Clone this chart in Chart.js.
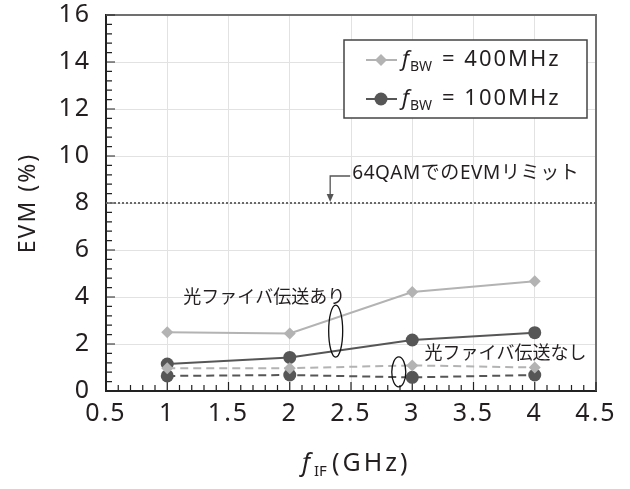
<!DOCTYPE html>
<html>
<head>
<meta charset="utf-8">
<script src="https://cdn.jsdelivr.net/npm/chart.js@4.4.0/dist/chart.umd.min.js"></script>
<style>
  body { margin: 0; background: #fff; }
  #wrap { width: 630px; height: 489px; }
</style>
</head>
<body>
<div id="wrap"><canvas id="evmChart" width="630" height="489"></canvas></div>
<script>
// data
const ifFreq = [1, 2, 3, 4];
const evm400Fiber = [2.50, 2.45, 4.21, 4.67];
const evm100Fiber = [1.15, 1.43, 2.17, 2.48];
const evm400NoFiber = [0.97, 0.97, 1.09, 1.00];
const evm100NoFiber = [0.64, 0.68, 0.58, 0.68];
const limitX = [0.5, 4.5];
const limitY = [8, 8];

const FONT = '"Noto Sans", "Noto Sans CJK JP", sans-serif';
const JFONT = '"Noto Sans CJK JP", sans-serif';
const light = '#b3b3b3';
const dark = '#565656';
const ink = '#231f20';

function pts(ys) {
  return ys.map((y, i) => ({ x: ifFreq[i], y: y }));
}

// wide tracking like the original figure's font
const tracking = {
  id: 'tracking',
  beforeDraw(chart) { chart.ctx.letterSpacing = '2px'; }
};

// inner ticks, frame, titles, legend and annotations
const extras = {
  id: 'extras',
  beforeDatasetsDraw(chart) {
    const c = chart.ctx, a = chart.chartArea;
    const xs = chart.scales.x, ys = chart.scales.y;
    c.save();
    c.strokeStyle = '#707070';
    c.lineWidth = 2;
    c.beginPath();
    c.moveTo(a.left, a.top); c.lineTo(a.right, a.top); c.lineTo(a.right, a.bottom);
    c.stroke();
    c.strokeStyle = '#222';
    c.lineWidth = 1.2;
    c.beginPath();
    for (let i = 0; i <= 40; i++) {
      const px = xs.getPixelForValue(0.5 + i * 0.1);
      const len = i % 5 === 0 ? 9 : 6;
      c.moveTo(px, a.bottom); c.lineTo(px, a.bottom - len);
    }
    for (let i = 0; i <= 40; i++) {
      const py = ys.getPixelForValue(i * 0.4);
      const len = i % 5 === 0 ? 9 : 6;
      c.moveTo(a.left, py); c.lineTo(a.left + len, py);
    }
    c.stroke();
    c.restore();
  },
  afterDatasetsDraw(chart) {
    const c = chart.ctx, a = chart.chartArea;
    const xs = chart.scales.x, ys = chart.scales.y;
    c.save();
    c.fillStyle = ink;
    c.textBaseline = 'middle';

    // axis titles
    c.save();
    c.translate(28, (a.top + a.bottom) / 2);
    c.rotate(-Math.PI / 2);
    c.textAlign = 'center';
    c.letterSpacing = '2px';
    c.font = '23px ' + FONT;
    c.fillText('EVM (%)', 0, 0);
    c.restore();

    c.textAlign = 'left';
    c.letterSpacing = '0px';
    c.font = 'italic 25px ' + FONT;
    c.fillText('f', 302, 464);
    c.font = '15px ' + FONT;
    c.fillText('IF', 314, 472);
    c.letterSpacing = '3px';
    c.font = '25px ' + FONT;
    c.fillText('(GHz)', 332, 464);

    // limit label + arrow
    const ax = xs.getPixelForValue(2.33);
    const ay = ys.getPixelForValue(8);
    const ty = ys.getPixelForValue(9.15);
    c.strokeStyle = '#555';
    c.lineWidth = 1.3;
    c.beginPath();
    c.moveTo(ax + 20, ty); c.lineTo(ax, ty); c.lineTo(ax, ay - 7);
    c.stroke();
    c.fillStyle = '#555';
    c.beginPath();
    c.moveTo(ax - 3.5, ay - 9); c.lineTo(ax + 3.5, ay - 9); c.lineTo(ax, ay - 1);
    c.closePath(); c.fill();
    c.fillStyle = ink;
    c.letterSpacing = '0.6px';
    c.font = '19px ' + FONT;
    c.fillText('64QAMでのEVMリミット', ax + 22, ty - 2);

    c.letterSpacing = '0px';
    c.font = '18px ' + JFONT;
    c.fillText('光ファイバ伝送あり', xs.getPixelForValue(1.13), ys.getPixelForValue(4.04));
    c.fillText('光ファイバ伝送なし', xs.getPixelForValue(3.1), ys.getPixelForValue(1.66));

    // ellipses grouping the curves
    c.strokeStyle = '#111';
    c.lineWidth = 1.3;
    c.beginPath();
    c.ellipse(xs.getPixelForValue(2.375), ys.getPixelForValue(2.55), 7, 26, 0, 0, Math.PI * 2);
    c.stroke();
    c.beginPath();
    c.ellipse(xs.getPixelForValue(2.89), ys.getPixelForValue(0.81), 7, 15, 0, 0, Math.PI * 2);
    c.stroke();

    // legend
    c.fillStyle = '#fff';
    c.fillRect(344, 40, 243, 78);
    c.strokeStyle = '#444';
    c.lineWidth = 1.5;
    c.strokeRect(344, 40, 243, 78);
    const rows = [
      { y: 60, color: light, diamond: true, txt: '= 400MHz' },
      { y: 99, color: dark, diamond: false, txt: '= 100MHz' }
    ];
    rows.forEach(r => {
      c.strokeStyle = r.color;
      c.lineWidth = 2;
      c.beginPath(); c.moveTo(366, r.y); c.lineTo(397, r.y); c.stroke();
      c.fillStyle = r.color;
      c.beginPath();
      if (r.diamond) {
        c.moveTo(381, r.y - 6); c.lineTo(387, r.y); c.lineTo(381, r.y + 6); c.lineTo(375, r.y);
        c.closePath();
      } else {
        c.arc(381, r.y, 6.5, 0, Math.PI * 2);
      }
      c.fill();
      c.fillStyle = ink;
      c.letterSpacing = '0px';
      c.font = 'italic 22px ' + FONT;
      c.fillText('f', 402, r.y);
      c.font = '14px ' + FONT;
      c.fillText('BW', 410, r.y + 7);
      c.letterSpacing = '2px';
      c.font = '22px ' + FONT;
      c.fillText(r.txt, 442, r.y);
    });
    c.restore();
  }
};

const ctx = document.getElementById('evmChart').getContext('2d');
const chart = new Chart(ctx, {
  type: 'scatter',
  data: {
    datasets: [
      {
        label: 'limit',
        data: limitX.map((x, i) => ({ x: x, y: limitY[i] })),
        showLine: true, borderColor: '#6a6a6a', borderWidth: 2, borderDash: [2, 2],
        pointRadius: 0
      },
      {
        label: '400MHz no fiber',
        data: pts(evm400NoFiber),
        showLine: true, borderColor: light, backgroundColor: light, borderWidth: 2,
        borderDash: [8, 5], pointStyle: 'rectRot', pointRadius: 6, pointBorderWidth: 0
      },
      {
        label: '100MHz no fiber',
        data: pts(evm100NoFiber),
        showLine: true, borderColor: dark, backgroundColor: dark, borderWidth: 2,
        borderDash: [8, 5], pointStyle: 'circle', pointRadius: 6.5, pointBorderWidth: 0
      },
      {
        label: '400MHz fiber',
        data: pts(evm400Fiber),
        showLine: true, borderColor: light, backgroundColor: light, borderWidth: 2,
        pointStyle: 'rectRot', pointRadius: 6, pointBorderWidth: 0
      },
      {
        label: '100MHz fiber',
        data: pts(evm100Fiber),
        showLine: true, borderColor: dark, backgroundColor: dark, borderWidth: 2,
        pointStyle: 'circle', pointRadius: 6.5, pointBorderWidth: 0
      }
    ]
  },
  options: {
    responsive: false,
    animation: false,
    layout: { padding: { top: 15, right: 34, left: 0, bottom: 0 } },
    plugins: { legend: { display: false }, tooltip: { enabled: false } },
    scales: {
      x: {
        type: 'linear', min: 0.5, max: 4.5,
        afterFit: s => { s.height = 98; s.paddingLeft = 0; s.paddingRight = 0; },
        ticks: {
          stepSize: 0.5, padding: 8, color: ink,
          font: { family: FONT, size: 25 },
          callback: v => String(v)
        },
        grid: { color: '#e2e2e2', drawTicks: false },
        border: { color: '#222', width: 2 }
      },
      y: {
        min: 0, max: 16,
        afterFit: s => { s.width = 106; s.paddingTop = 0; s.paddingBottom = 0; },
        ticks: {
          stepSize: 2, padding: 15, color: ink,
          font: { family: FONT, size: 25 },
          callback: v => String(v)
        },
        grid: { color: '#e2e2e2', drawTicks: false },
        border: { color: '#222', width: 2 }
      }
    }
  },
  plugins: [tracking, extras]
});
</script>
</body>
</html>
